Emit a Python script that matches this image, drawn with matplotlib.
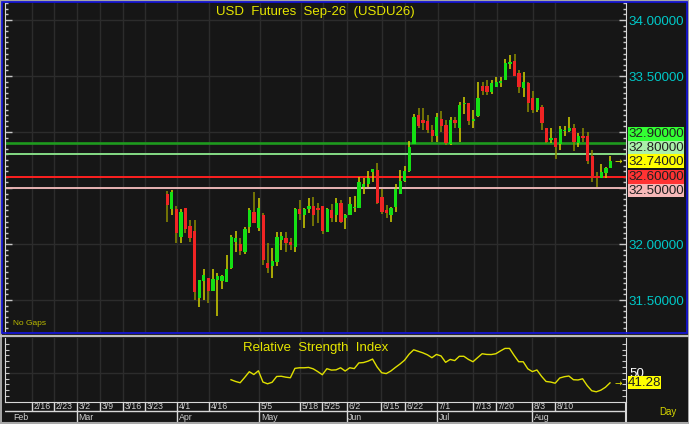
import matplotlib
matplotlib.use('Agg')
import matplotlib.pyplot as plt
from matplotlib.patches import Rectangle
from matplotlib.ticker import MultipleLocator, FixedLocator, FuncFormatter, FormatStrFormatter
import numpy as np

plt.rcParams['font.family'] = ['Liberation Sans', 'DejaVu Sans']

# ---------------- data ----------------
opens = [32.45, 32.31, 32.31, 32.06, 32.32, 32.16, 32.12, 31.52, 31.67, 31.70,
         31.58, 31.68, 31.67, 31.66, 31.79, 32.02, 32.00, 31.93, 32.15, 32.29,
         32.14, 32.26, 31.83, 31.80, 31.84, 32.04, 32.05, 32.02, 31.97, 32.31,
         32.26, 32.31, 32.34, 32.32, 32.34, 32.11, 32.30, 32.26, 32.37, 32.23,
         32.26, 32.32, 32.32, 32.51, 32.54, 32.64, 32.66, 32.42, 32.30, 32.26,
         32.33, 32.45, 32.56, 32.65, 32.89, 33.15, 33.11, 33.10, 33.02, 32.96,
         33.12, 33.06, 32.89, 33.11, 33.04, 33.25, 33.26, 33.10, 33.14, 33.41,
         33.41, 33.36, 33.40, 33.44, 33.46, 33.61, 33.63, 33.53, 33.39, 33.44,
         33.30, 33.20, 33.22, 33.04, 32.93, 32.95, 32.89, 33.01, 33.01, 33.04,
         32.90, 32.96, 32.96, 32.79, 32.61, 32.59, 32.63, 32.68]
highs = [32.47, 32.48, 32.34, 32.31, 32.32, 32.21, 32.21, 31.68, 31.78, 31.70,
         31.78, 31.74, 31.72, 31.90, 32.08, 32.12, 32.05, 32.15, 32.32, 32.46,
         32.41, 32.28, 32.01, 31.96, 32.11, 32.11, 32.11, 32.05, 32.32, 32.39,
         32.32, 32.41, 32.42, 32.37, 32.34, 32.32, 32.36, 32.41, 32.39, 32.27,
         32.42, 32.43, 32.60, 32.59, 32.65, 32.67, 32.72, 32.49, 32.35, 32.33,
         32.54, 32.66, 32.70, 32.92, 33.16, 33.21, 33.21, 33.15, 33.06, 33.17,
         33.19, 33.11, 33.13, 33.13, 33.27, 33.31, 33.26, 33.20, 33.45, 33.45,
         33.46, 33.46, 33.49, 33.49, 33.65, 33.69, 33.70, 33.55, 33.54, 33.45,
         33.37, 33.30, 33.24, 33.04, 33.04, 32.95, 33.05, 33.05, 33.13, 33.07,
         32.99, 33.04, 33.00, 32.84, 32.64, 32.71, 32.69, 32.79]
lows = [32.20, 32.26, 32.01, 32.01, 32.10, 32.02, 31.50, 31.44, 31.50, 31.47,
        31.58, 31.36, 31.60, 31.66, 31.78, 31.93, 31.90, 31.91, 32.10, 32.19,
        32.12, 31.81, 31.74, 31.70, 31.80, 31.95, 31.93, 31.95, 31.93, 32.21,
        32.14, 32.28, 32.16, 32.19, 32.09, 32.11, 32.20, 32.20, 32.19, 32.13,
        32.26, 32.29, 32.32, 32.45, 32.51, 32.55, 32.36, 32.27, 32.23, 32.20,
        32.29, 32.45, 32.55, 32.64, 32.89, 33.04, 33.02, 32.99, 32.91, 32.91,
        33.00, 32.88, 32.88, 33.04, 32.91, 33.16, 33.06, 33.04, 33.13, 33.33,
        33.33, 33.34, 33.40, 33.40, 33.46, 33.56, 33.50, 33.35, 33.31, 33.18,
        33.17, 33.18, 33.02, 32.90, 32.90, 32.76, 32.84, 32.96, 33.00, 32.83,
        32.87, 32.91, 32.71, 32.55, 32.51, 32.59, 32.59, 32.68]
closes = [32.35, 32.46, 32.10, 32.29, 32.13, 32.05, 31.57, 31.68, 31.72, 31.58,
          31.69, 31.71, 31.71, 31.78, 32.06, 32.05, 31.94, 32.13, 32.30, 32.19,
          32.32, 31.86, 31.79, 31.85, 32.06, 32.07, 32.01, 31.99, 32.31, 32.27,
          32.31, 32.34, 32.26, 32.30, 32.12, 32.31, 32.23, 32.37, 32.20, 32.26,
          32.36, 32.33, 32.55, 32.54, 32.59, 32.67, 32.37, 32.29, 32.28, 32.32,
          32.49, 32.56, 32.65, 32.87, 33.13, 33.05, 33.08, 33.02, 32.96, 33.13,
          33.05, 32.90, 33.11, 33.08, 33.24, 33.26, 33.10, 33.12, 33.30, 33.37,
          33.36, 33.44, 33.45, 33.45, 33.62, 33.62, 33.50, 33.40, 33.45, 33.26,
          33.20, 33.30, 33.08, 32.91, 32.95, 32.87, 33.03, 33.02, 33.04, 32.91,
          32.96, 32.95, 32.74, 32.59, 32.59, 32.64, 32.68, 32.74]

rsi_start = 14
rsi = [44.0, 42.5, 41.4, 46.0, 50.9, 48.5, 51.7, 42.0, 40.5, 41.8,
       46.8, 47.0, 46.2, 45.7, 53.8, 54.3, 54.3, 54.6, 53.4, 51.0,
       48.3, 53.5, 52.3, 52.5, 54.3, 51.5, 54.3, 53.6, 58.5, 58.8,
       60.0, 61.8, 55.0, 50.0, 49.3, 51.5, 54.6, 57.5, 60.8, 66.0,
       69.8, 68.5, 67.2, 65.5, 63.0, 65.8, 64.5, 59.0, 61.5, 60.5,
       64.2, 64.2, 61.5, 59.5, 63.0, 66.4, 65.8, 65.7, 66.4, 68.8,
       71.0, 71.0, 65.0, 59.5, 59.5, 53.4, 51.0, 52.4, 47.0, 42.5,
       42.0, 41.0, 45.5, 46.6, 47.2, 44.0, 43.8, 44.8, 39.0, 34.5,
       33.6, 35.0, 37.5, 41.28]

date_labels = ['2/16', '2/23', '3/2', '3/9', '3/16', '3/23', '4/1', '4/16', '5/5',
               '5/18', '5/25', '6/2', '6/15', '6/22', '7/1', '7/13', '7/20', '8/3', '8/10']
date_pos = [-29.6, -24.8, -19.7, -14.7, -9.6, -4.8, 2.2, 9.2, 20.2,
            29.2, 34.0, 39.3, 46.9, 52.0, 59.2, 67.1, 72.1, 80.0, 84.9]
month_labels = ['Feb', 'Mar', 'Apr', 'May', 'Jun', 'Jul', 'Aug']
month_pos = [-35.5, -19.7, 2.2, 20.2, 39.3, 59.2, 80.0]

level_values = [32.90, 32.80, 32.74, 32.60, 32.50]
level_lines = ['#1e9a1e', '#86dc86', None, '#ff2020', '#e8b4b4']
level_boxes = ['#33ff33', '#aaf0aa', '#ffff00', '#ff3333', '#f7b8b8']
last_price = 32.74
last_rsi = 41.28

title = 'USD  Futures  Sep-26  (USDU26)'
rsi_title = 'Relative  Strength  Index'

# ---------------- figure ----------------
W, H = 689, 424
BG = '#161616'
GRID = '#2c2c2c'
AXC = '#d8d8d8'
YEL = '#e6e600'
fig = plt.figure(figsize=(W / 100, H / 100), dpi=100, facecolor=BG)


def rect(l, t, r, b):
    return [l / W, 1 - b / H, (r - l) / W, (b - t) / H]


XL = (-35.5, 100.4)

# main price panel
ax = fig.add_axes(rect(5, 3, 626, 333))
ax.set_facecolor(BG)
ax.set_xlim(*XL)
ax.set_ylim(31.2054, 34.152)
x = np.arange(len(opens))
o = np.array(opens); h = np.array(highs); l = np.array(lows); c = np.array(closes)
up = c >= o
wick_cols = np.where(up, '#d2d200', '#8e8e00')
body_cols = np.where(up, '#14e014', '#f02424')
ax.vlines(x, l, h, colors=wick_cols, lw=1.1, zorder=3)
ax.bar(x, np.maximum(np.abs(c - o), 0.012), bottom=np.minimum(o, c), width=0.72,
       color=body_cols, zorder=4, linewidth=0)

for v, col in zip(level_values, level_lines):
    if col is not None:
        ax.axhline(v, color=col, lw=1.4 if v != 32.90 else 1.9, zorder=2)

ax.yaxis.set_major_locator(MultipleLocator(0.5))
ax.yaxis.set_minor_locator(MultipleLocator(0.05))
ax.yaxis.set_major_formatter(FormatStrFormatter('%.5f'))
ax.yaxis.tick_right()
ax.tick_params(axis='y', which='both', direction='in', left=True, right=True,
               labelleft=False, labelright=True, color='#c8c8c8', labelcolor='#00c8c8',
               labelsize=9.6, pad=2)
ax.tick_params(axis='y', which='major', length=5, width=1)
ax.tick_params(axis='y', which='minor', length=2.5, width=1)
ax.set_xticks(date_pos)
ax.tick_params(axis='x', length=0, labelbottom=False)
ax.grid(True, color=GRID, lw=1)
for s in ['top', 'bottom']:
    ax.spines[s].set_visible(False)
for s in ['left', 'right']:
    ax.spines[s].set_color(AXC)
ax.text(0.5, 0.973, title, transform=ax.transAxes, ha='center', va='center',
        color=YEL, fontsize=9.5)
ax.text(8 / 621, 0.018, 'No Gaps', transform=ax.transAxes, ha='left', va='bottom',
        color='#bcbc00', fontsize=6)

# RSI panel
ax2 = fig.add_axes(rect(5, 337.5, 625.5, 402))
ax2.set_facecolor(BG)
ax2.set_xlim(*XL)
ax2.set_ylim(24.8, 80.4)
rx = np.arange(rsi_start, rsi_start + len(rsi))
ax2.plot(rx, rsi, color='#e0e000', lw=1.0, zorder=3)
ax2.axhline(50, color=GRID, lw=1, zorder=1)
ax2.set_xticks(date_pos)
ax2.tick_params(axis='x', length=0, labelbottom=False)
ax2.grid(True, axis='x', color=GRID, lw=1)
ax2.yaxis.set_major_locator(FixedLocator(list(range(25, 80, 5))))
ax2.yaxis.set_major_formatter(FuncFormatter(lambda v, p: '50' if abs(v - 50) < 0.1 else ''))
ax2.yaxis.tick_right()
ax2.tick_params(axis='y', direction='in', left=True, right=True, labelleft=False,
                labelright=True, color='#c8c8c8', labelcolor='#ffffff', labelsize=9.6,
                length=3, pad=3)
ax2.spines['top'].set_visible(False)
for s in ['left', 'right', 'bottom']:
    ax2.spines[s].set_color(AXC)
ax2.text(0.5, 0.84, rsi_title, transform=ax2.transAxes, ha='center', va='center',
         color=YEL, fontsize=9.5)

# date axis rows
ax3 = fig.add_axes(rect(5, 402, 625.5, 422))
ax3.set_facecolor(BG)
ax3.set_xlim(*XL)
ax3.set_ylim(20, 0)
ax3.axis('off')
ax3.axhline(9, color=AXC, lw=1)
for p, lab in zip(date_pos, date_labels):
    ax3.vlines(p, 0, 9, color=AXC, lw=1)
    ax3.text(p + 0.35, 4.8, lab, color='#d0d0d0', fontsize=6.3, ha='left', va='center')
for i, (p, lab) in enumerate(zip(month_pos, month_labels)):
    if i > 0:
        ax3.vlines(p, 9, 20, color=AXC, lw=1)
    ax3.text(p + (1.7 if i == 0 else 0.35), 15.0, lab, color='#d0d0d0', fontsize=6.3,
             ha='left', va='center')
ax3.vlines(XL[1], 0, 20, color=AXC, lw=1.5, clip_on=False)

# overlay in pixel coordinates for frame and value boxes
ov = fig.add_axes([0, 0, 1, 1], zorder=10)
ov.set_xlim(0, W)
ov.set_ylim(H, 0)
ov.axis('off')
ov.patch.set_alpha(0)

fig.canvas.draw()


def price_px(v):
    return H - ax.transData.transform((0, v))[1]


def rsi_px(v):
    return H - ax2.transData.transform((0, v))[1]


bh = 13.6
centers = {}
ci = level_values.index(last_price)
centers[ci] = price_px(last_price)
prev = centers[ci]
for k in range(ci - 1, -1, -1):
    cy = min(price_px(level_values[k]), prev - bh)
    centers[k] = cy
    prev = cy
prev = centers[ci]
for k in range(ci + 1, len(level_values)):
    cy = max(price_px(level_values[k]), prev + bh)
    centers[k] = cy
    prev = cy
for k, v in enumerate(level_values):
    cy = centers[k]
    ov.add_patch(Rectangle((628, cy - bh / 2), 56, bh, facecolor=level_boxes[k],
                           edgecolor='none'))
    ov.text(656, cy + 0.5, f'{v:.5f}', color='#202020', fontsize=9.6, ha='center',
            va='center')

ry = rsi_px(last_rsi)
ov.add_patch(Rectangle((628, ry - 6.5), 33, 13, facecolor='#ffff00', edgecolor='none'))
ov.text(644.5, ry + 0.5, f'{last_rsi:.2f}', color='#202020', fontsize=9.6, ha='center',
        va='center')

ov.text(618, price_px(last_price), '→', color=YEL, fontsize=6.5, ha='center', va='center',
        family=['DejaVu Sans'])
ov.text(618, ry, '→', color=YEL, fontsize=6.5, ha='center', va='center',
        family=['DejaVu Sans'])
ov.text(668, 412, 'Day', color='#d8d800', fontsize=7, ha='center', va='center')

# frames
ov.add_patch(Rectangle((0.5, 0.5), W - 1, H - 1, fill=False, edgecolor='#a8a8a8', lw=1.4))
ov.add_patch(Rectangle((2, 2.2), W - 3.8, 331.2, fill=False, edgecolor='#1414d2', lw=1.3))
ov.plot([0, W], [335.6, 335.6], color='#bdbdbd', lw=1.6)
ov.plot([0, W], [423, 423], color='#a8a8a8', lw=1.5)

fig.savefig('out.png', dpi=100, facecolor=BG)
